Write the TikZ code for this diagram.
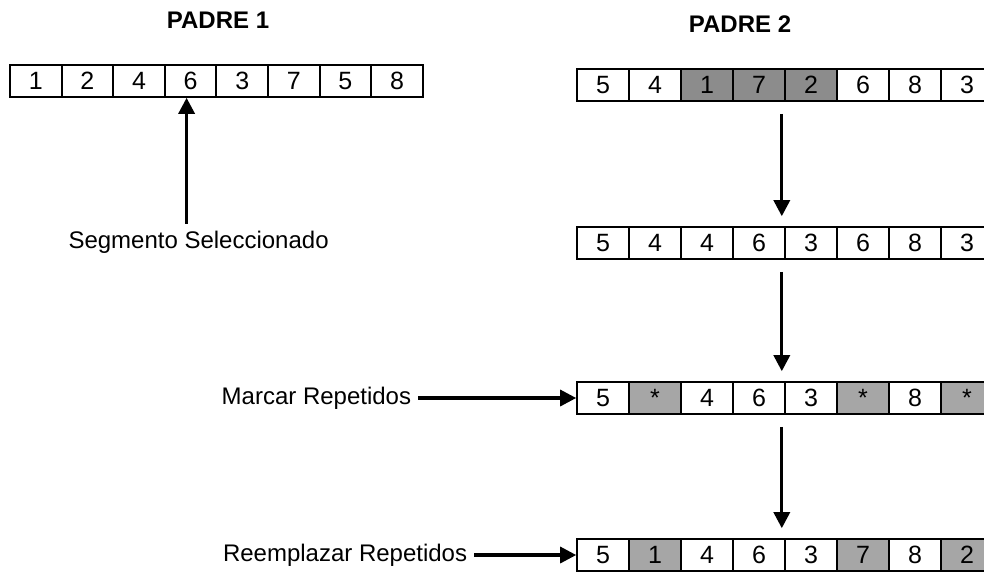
\documentclass[tikz,border=0pt]{standalone}
\usepackage{fontspec}
\setmainfont{Liberation Sans}
\usetikzlibrary{arrows.meta,positioning}

\begin{document}
\begin{tikzpicture}[x=0.5pt,y=-0.5pt,
    cell/.style={draw,line width=0.8pt,minimum width=26pt,minimum height=16pt,inner sep=0pt,font=\fontsize{12.5}{14}\selectfont},
    dark/.style={cell,fill=black!45},
    shaded/.style={cell,fill=black!35},
    note/.style={font=\fontsize{12}{14}\selectfont},
    heading/.style={font=\bfseries\fontsize{12}{14}\selectfont},
    flow/.style={line width=1.6pt,-{Triangle[length=8pt,width=8pt]}},
    gap/.style={shorten <=6pt,shorten >=5pt}]

    \useasboundingbox (0,0) rectangle (984,575);

    % Define variables
    \def\pw{51.6} % cell width of padre 1 (px)
    \def\qw{52}   % cell width of padre 2 (px)
    \def\qx{577}  % left edge of the padre 2 rows

    % Titles
    \node[heading] (t1) at (218,20) {PADRE 1};
    \node[heading] (t2) at (740,24) {PADRE 2};

    % Padre 1
    \foreach \v [count=\i] in {1,2,4,6,3,7,5,8}
        \node[cell] (a\i) at ({10+(\i-0.5)*\pw},81) {\v};

    % Padre 2 and the steps below it
    \foreach \v/\s [count=\i] in {5/cell,4/cell,1/dark,7/dark,2/dark,6/cell,8/cell,3/cell}
        \node[\s] (b\i) at ({\qx+(\i-0.5)*\qw},85) {\v};
    \foreach \v [count=\i] in {5,4,4,6,3,6,8,3}
        \node[cell] (c\i) at ({\qx+(\i-0.5)*\qw},243) {\v};
    \foreach \v/\s [count=\i] in {5/cell,*/shaded,4/cell,6/cell,3/cell,*/shaded,8/cell,*/shaded}
        \node[\s] (d\i) at ({\qx+(\i-0.5)*\qw},398) {\v};
    \foreach \v/\s [count=\i] in {5/cell,1/shaded,4/cell,6/cell,3/cell,7/shaded,8/cell,2/shaded}
        \node[\s] (e\i) at ({\qx+(\i-0.5)*\qw},555) {\v};

    % Labels
    \node[note,below=63pt of a4,xshift=4pt] (seg) {Segmento Seleccionado};
    \node[note,left=79pt of d1] (marcar) {Marcar Repetidos};
    \node[note,left=51pt of e1] (reemp) {Reemplazar Repetidos};

    % Draw arrows
    \draw[flow] ([xshift=-2pt]seg.north -| a4.south) -- ([xshift=-2pt]a4.south);
    \draw[flow,gap] ([xshift=-2pt]b4.south east) -- ([xshift=-2pt]c4.north east);
    \draw[flow,gap] ([xshift=-2pt]c4.south east) -- ([xshift=-2pt]d4.north east);
    \draw[flow,gap] ([xshift=-2pt]d4.south east) -- ([xshift=-2pt]e4.north east);
    \draw[flow] (marcar) -- (d1);
    \draw[flow] (reemp) -- (e1);
\end{tikzpicture}
\end{document}
